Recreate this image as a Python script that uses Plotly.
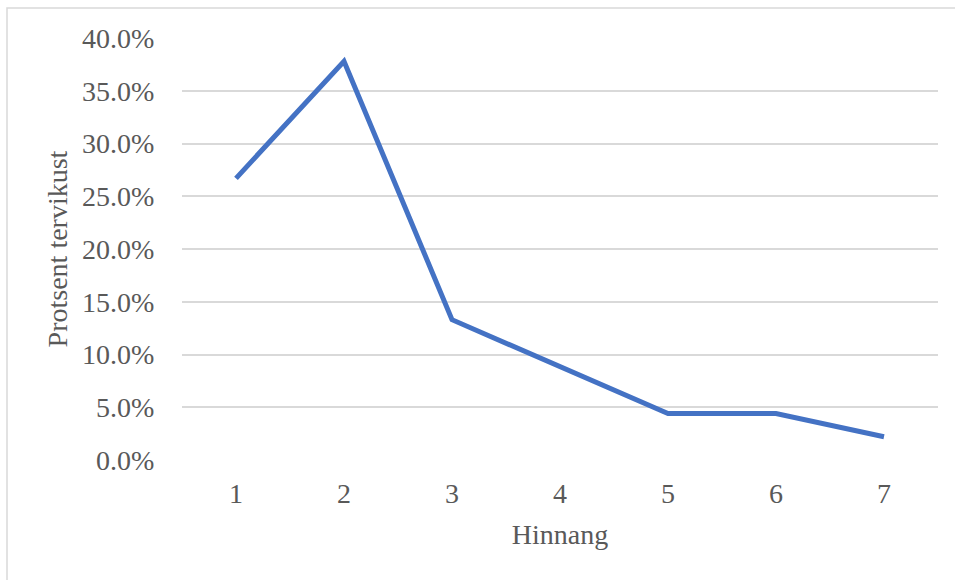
import plotly.graph_objects as go

categories = ["1", "2", "3", "4", "5", "6", "7"]
values = [0.267, 0.378, 0.133, 0.089, 0.044, 0.044, 0.022]
y_ticks = [0, 0.05, 0.10, 0.15, 0.20, 0.25, 0.30, 0.35, 0.40]
x_title = "Hinnang"
y_title = "Protsent tervikust"

FONT = "Liberation Serif, Times New Roman, serif"
TXT = "#595959"
FS = 28

fig = go.Figure()
fig.add_trace(go.Scatter(
    x=[int(c) for c in categories], y=values, mode="lines",
    line=dict(color="#4472C4", width=5),
    hoverinfo="skip",
))

L, R, T, B = 182, 17, 38, 120
W, H = 955, 580
pw, ph = W - L - R, H - T - B

fig.update_layout(
    width=W, height=H,
    margin=dict(l=L, r=R, t=T, b=B),
    paper_bgcolor="white", plot_bgcolor="white",
    showlegend=False,
    font=dict(family=FONT, color=TXT, size=FS),
    xaxis=dict(
        range=[0.5, 7.5], tickvals=[int(c) for c in categories], ticktext=categories,
        showgrid=False, zeroline=False, showline=False,
        ticks="outside", ticklen=8, tickcolor="rgba(0,0,0,0)",
        tickfont=dict(family=FONT, color=TXT, size=FS),
        title=dict(text=x_title, standoff=16, font=dict(family=FONT, color=TXT, size=FS)),
        fixedrange=True,
    ),
    yaxis=dict(
        range=[0, 0.4], tickvals=y_ticks, tickformat=".1%",
        showgrid=True, gridcolor="#D9D9D9", gridwidth=1.5,
        zeroline=False, showline=False,
        ticks="outside", ticklen=21, tickcolor="rgba(0,0,0,0)",
        tickfont=dict(family=FONT, color=TXT, size=FS),
        title=dict(text=y_title, standoff=6, font=dict(family=FONT, color=TXT, size=FS)),
        fixedrange=True,
    ),
    shapes=[dict(
        type="rect", xref="paper", yref="paper",
        x0=(7 - L) / pw, x1=(W + 20 - L) / pw,
        y0=(H - B - (H + 20)) / ph, y1=(H - B - 8) / ph,
        line=dict(color="#D9D9D9", width=1.5), fillcolor="rgba(0,0,0,0)",
        layer="below",
    )],
)

fig.write_html("out.html", config={"displayModeBar": False},
               post_script="document.body.style.margin='0';")
